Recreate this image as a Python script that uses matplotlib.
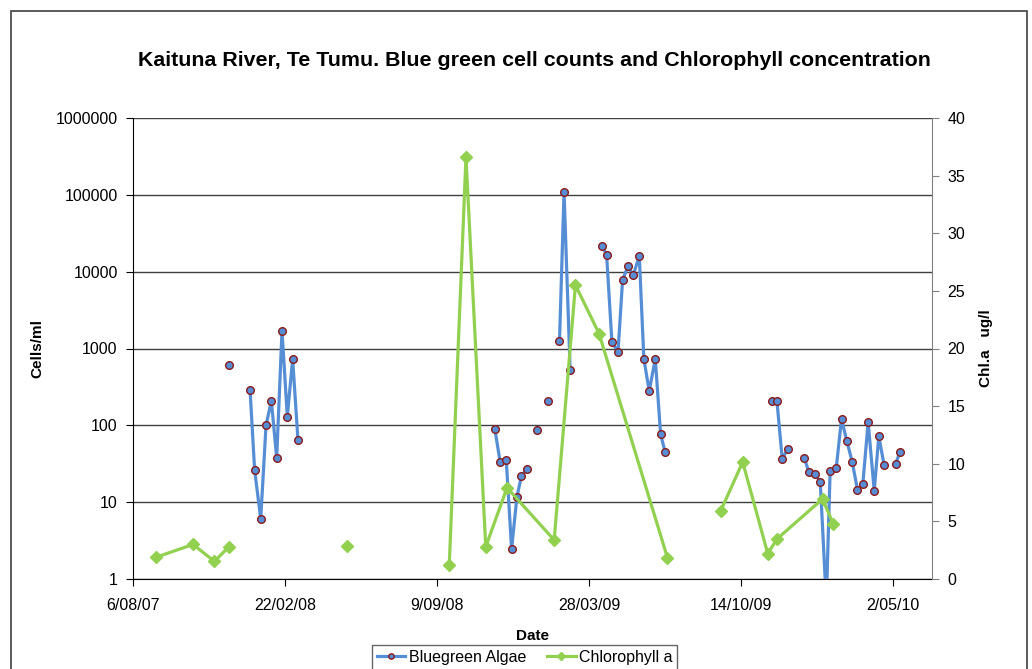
import numpy as np
import pandas as pd
import matplotlib
matplotlib.use('Agg')
import matplotlib.pyplot as plt
from matplotlib.patches import Rectangle

plt.rcParams['font.family'] = ['Liberation Sans', 'DejaVu Sans']

# Data (None = gap in the series)
algae_dates = ['2007-12-10', None,
               '2008-01-07', '2008-01-13', '2008-01-21', '2008-01-28',
               '2008-02-04', '2008-02-11', '2008-02-18', '2008-02-25',
               '2008-03-03', '2008-03-10', None,
               '2008-11-24', '2008-12-01', '2008-12-09', '2008-12-16',
               '2008-12-23', '2008-12-29', '2009-01-05', None,
               '2009-01-19', None, '2009-02-02', None,
               '2009-02-17', '2009-02-23', '2009-03-03', None,
               '2009-04-14', '2009-04-20', '2009-04-27', '2009-05-05',
               '2009-05-11', '2009-05-18', '2009-05-25', '2009-06-02',
               '2009-06-08', '2009-06-15', '2009-06-23', '2009-06-30',
               '2009-07-06', None,
               '2009-11-24', '2009-11-30', '2009-12-07', '2009-12-14', None,
               '2010-01-05', '2010-01-11', '2010-01-19', '2010-01-26',
               '2010-02-03', '2010-02-08', '2010-02-16', '2010-02-23',
               '2010-03-02', '2010-03-09', '2010-03-16', '2010-03-23',
               '2010-03-30', '2010-04-07', '2010-04-13', '2010-04-20', None,
               '2010-05-05', '2010-05-11']
algae_cells = [616, None,
               288, 26, 6.1, 100, 209, 37.6, 1700, 130, 730, 64, None,
               89, 33, 35, 2.46, 11.7, 22, 27, None,
               87, None, 205, None,
               1242, 109000, 520, None,
               21800, 16500, 1200, 910, 7800, 11700, 9060, 15900,
               730, 280, 730, 77, 44.6, None,
               209, 209, 36.5, 49, None,
               37.6, 24.7, 23.3, 18.5, 0.5, 25.5, 27.8, 121,
               62, 33.6, 14.5, 17.2, 110, 14.1, 72, 30.5, None,
               31.4, 45]

chl_dates = ['2007-09-05', '2007-10-24', '2007-11-21', '2007-12-10', None,
             '2008-05-14', None,
             '2008-09-25', '2008-10-17', '2008-11-12', '2008-12-10',
             '2009-02-10', '2009-03-10', '2009-04-10', '2009-07-09', None,
             '2009-09-17', '2009-10-16', '2009-11-18', '2009-11-30',
             '2010-01-29', '2010-02-12']
chl_values = [1.88, 3.0, 1.53, 2.78, None,
              2.86, None,
              1.21, 36.6, 2.8, 7.92, 3.38, 25.5, 21.3, 1.85, None,
              5.9, 10.15, 2.2, 3.47, 6.94, 4.8]

tick_dates = ['2007-08-06', '2008-02-22', '2008-09-09',
              '2009-03-28', '2009-10-14', '2010-05-02']

blue = '#558ED5'
green = '#92D050'

x_algae = pd.to_datetime(algae_dates)
y_algae = np.array([np.nan if v is None else v for v in algae_cells])
x_chl = pd.to_datetime(chl_dates)
y_chl = np.array([np.nan if v is None else v for v in chl_values])

fig = plt.figure(figsize=(10.32, 6.69), dpi=100)
ax = fig.add_axes([133 / 1032, 1 - 579 / 669, 799 / 1032, 461 / 669])
ax2 = ax.twinx()

# outer chart frame
fig.patches.append(Rectangle((11 / 1032, -0.2), 1016 / 1032, 1.2 - 11 / 669,
                             transform=fig.transFigure, fill=False,
                             edgecolor='#404040', linewidth=1.2))

ax.plot(x_algae, y_algae, color=blue, linewidth=2.3, marker='o',
        markersize=5.5, markerfacecolor=blue, markeredgecolor='#8B1A1A',
        markeredgewidth=1.0, label='Bluegreen Algae', zorder=3)
ax2.plot(x_chl, y_chl, color=green, linewidth=2.3, marker='D',
         markersize=6.5, markerfacecolor=green, markeredgecolor=green,
         label='Chlorophyll a', zorder=3)

ax.set_yscale('log')
ax.set_ylim(1, 1e6)
ax.set_yticks([1, 10, 100, 1000, 10000, 100000, 1000000])
ax.set_yticklabels(['1', '10', '100', '1000', '10000', '100000', '1000000'])
ax.yaxis.set_minor_locator(matplotlib.ticker.NullLocator())
ax.yaxis.grid(True, color='#404040', linewidth=1.0)
ax.set_axisbelow(True)

start = pd.Timestamp('2007-08-06')
ax.set_xlim(start, start + pd.Timedelta(days=1051))
ax.set_xticks(pd.to_datetime(tick_dates))
ax.set_xticklabels([d.strftime('%-d/%m/%y') for d in pd.to_datetime(tick_dates)])

ax2.set_ylim(0, 40)
ax2.set_yticks(range(0, 41, 5))

ax.spines['top'].set_visible(False)
ax2.spines['top'].set_visible(False)
ax.spines['left'].set_color('black')
ax.spines['bottom'].set_color('black')
ax2.spines['right'].set_color('#808080')
ax2.spines['left'].set_visible(False)
ax2.spines['bottom'].set_visible(False)
ax.spines['right'].set_visible(False)

ax.tick_params(axis='y', direction='out', length=5, labelsize=11.5,
               color='black', pad=6)
ax.tick_params(axis='x', direction='out', length=5, labelsize=11.5,
               color='black', pad=9)
ax2.tick_params(axis='y', direction='out', length=5, labelsize=11.5,
                color='#808080', pad=6)

ax.set_xlabel('Date', fontsize=11, fontweight='bold', labelpad=11)
ax.set_ylabel('Cells/ml', fontsize=11, fontweight='bold', labelpad=8)
ax2.set_ylabel('Chl.a   ug/l', fontsize=11, fontweight='bold', labelpad=10)

fig.text(534.5 / 1032, 1 - 60 / 669,
         'Kaituna River, Te Tumu. Blue green cell counts and Chlorophyll concentration',
         ha='center', va='center', fontsize=15.4, fontweight='bold')

h1, l1 = ax.get_legend_handles_labels()
h2, l2 = ax2.get_legend_handles_labels()
leg = fig.legend(h1 + h2, l1 + l2, loc='upper center', ncol=2,
                 bbox_to_anchor=(524.5 / 1032, 1 - 645 / 669), fontsize=11.5,
                 frameon=True, fancybox=False, edgecolor='#404040',
                 markerscale=0.7, handlelength=1.8, handletextpad=0.2,
                 columnspacing=1.3, borderpad=0.3, borderaxespad=0)
leg.get_frame().set_linewidth(1.0)

fig.savefig('out.png', dpi=100)
